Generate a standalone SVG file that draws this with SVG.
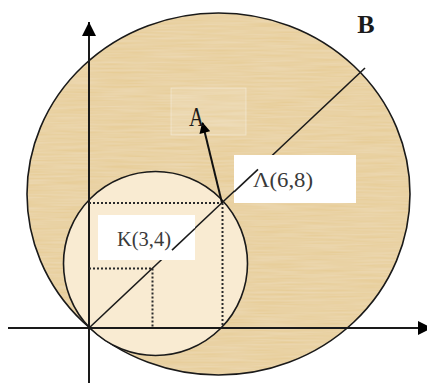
<svg xmlns="http://www.w3.org/2000/svg" width="427" height="383" viewBox="0 0 427 383">
<style>
.axis{stroke:#1a1a1a;stroke-width:2;fill:none}
.curve{stroke:#1a1a1a;stroke-width:1.6}
.dot{stroke:#2a2a2a;stroke-width:2;stroke-dasharray:2 2;fill:none}
.lbl{font-family:"Liberation Serif","DejaVu Serif",serif;fill:#3a3a3a;font-size:21px}
.big{font-family:"Liberation Serif","DejaVu Serif",serif;fill:#1a1a1a}
.box{fill:#ffffff}
</style>
<defs>
<marker id="ah" viewBox="0 0 10 10" refX="9" refY="5" markerWidth="13" markerHeight="11" markerUnits="userSpaceOnUse" orient="auto">
<path d="M0,0 L10,5 L0,10 z" fill="#000"/>
</marker>
<marker id="axh" viewBox="0 0 10 10" refX="10" refY="5" markerWidth="15" markerHeight="14" markerUnits="userSpaceOnUse" orient="auto">
<path d="M0,0 L10,5 L0,10 z" fill="#000"/>
</marker>
<filter id="tex" x="0" y="0" width="1" height="1">
<feTurbulence type="fractalNoise" baseFrequency="0.02 0.5" numOctaves="2" seed="3" result="n"/>
<feColorMatrix in="n" type="matrix" values="0 0 0 0 1  0 0 0 0 1  0 0 0 0 1  0 0 0 0.25 0" result="w"/>
<feComposite in="w" in2="SourceGraphic" operator="in" result="wm"/>
<feMerge><feMergeNode in="SourceGraphic"/><feMergeNode in="wm"/></feMerge>
</filter>
</defs>
<rect width="427" height="383" fill="#ffffff"/>
<g id="circleB">
<ellipse cx="218.5" cy="194" rx="191.5" ry="181" fill="#e6cb92" filter="url(#tex)"/>
<ellipse cx="218.5" cy="194" rx="191.5" ry="181" fill="none" class="curve"/>
<rect x="171" y="88" width="75" height="47" fill="#fff" fill-opacity="0.12" stroke="#fff" stroke-opacity="0.35" stroke-width="1"/>
<text class="big" x="366" y="33" font-size="26" font-weight="bold" text-anchor="middle">B</text>
</g>
<g id="circleK">
<circle cx="155.5" cy="263.5" r="92" fill="#f9ebd2"/>
<circle cx="155.5" cy="263.5" r="92" fill="none" class="curve"/>
</g>
<g id="connectors">
<line class="axis" x1="8" y1="328" x2="432" y2="328" marker-end="url(#axh)"/>
<line class="axis" x1="89" y1="383" x2="89" y2="22" marker-end="url(#axh)"/>
<line class="curve" x1="89" y1="328" x2="365" y2="68"/>
<line class="dot" x1="89" y1="203" x2="222" y2="203"/>
<line class="dot" x1="222.5" y1="203" x2="222.5" y2="327"/>
<line class="dot" x1="89" y1="268.5" x2="152" y2="268.5"/>
<line class="dot" x1="152.5" y1="268.5" x2="152.5" y2="327"/>
<line x1="222" y1="203" x2="202.5" y2="123" stroke="#111" stroke-width="2" marker-end="url(#ah)"/>
</g>
<g id="labelA">
<text class="big" x="196.5" y="126" font-size="28" text-anchor="middle" textLength="15" lengthAdjust="spacingAndGlyphs">A</text>
</g>
<g id="pointL">
<rect class="box" x="234" y="155" width="122" height="48"/>
<line class="curve" x1="234" y1="191.9" x2="258" y2="169.4"/>
<text class="lbl" x="253" y="187" textLength="60" lengthAdjust="spacingAndGlyphs">Λ(6,8)</text>
</g>
<g id="pointK">
<rect class="box" x="98" y="215" width="97" height="45"/>
<line class="curve" x1="172" y1="250.1" x2="195" y2="228.5"/>
<text class="lbl" x="117" y="246" textLength="54" lengthAdjust="spacingAndGlyphs">K(3,4)</text>
</g>
</svg>
